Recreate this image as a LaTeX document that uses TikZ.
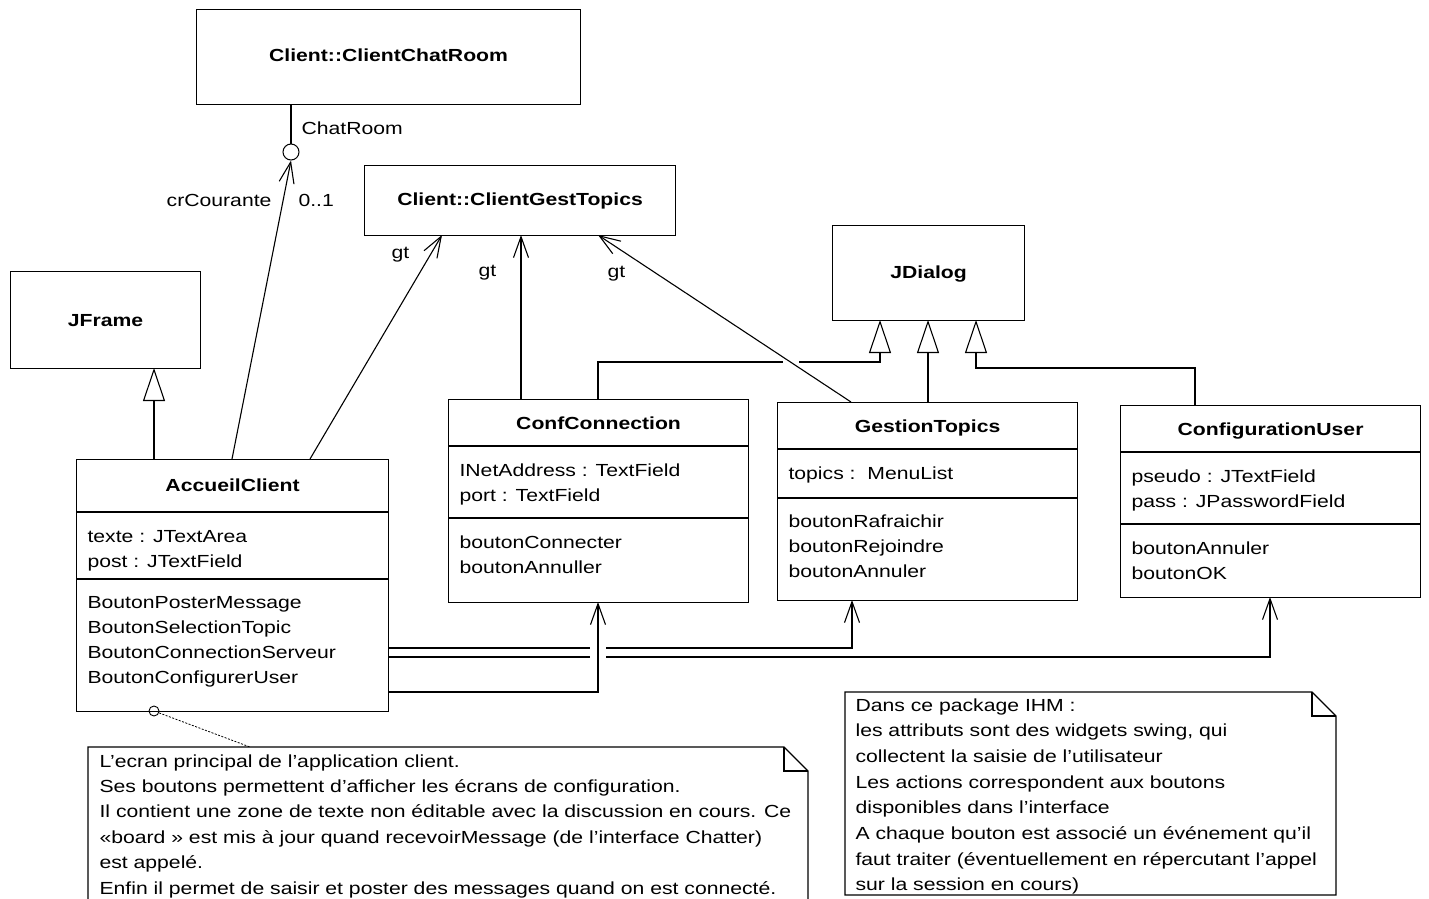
\documentclass[tikz,border=0pt]{standalone}
\usepackage{fontspec}
\setmainfont{Liberation Sans}[FakeStretch=1.21]
\usetikzlibrary{arrows.meta}
\newcommand\umllines[1]{\begin{tabular}[t]{@{}l@{}}#1\end{tabular}}
\begin{document}
\begin{tikzpicture}[x=1pt,y=-1pt,line width=1.1pt,
  every node/.style={font=\fontsize{17.5}{25}\selectfont},
  box/.style={draw,rectangle,anchor=north west,inner sep=0pt},
  txt/.style={inner sep=0pt,anchor=base west},
  ttl/.style={inner sep=0pt,anchor=base,font=\fontsize{17.5}{25}\selectfont\bfseries},
  assoc/.style={-{Straight Barb[length=21pt,width=15pt]}},
  inh/.style={-{Triangle[open,length=33pt,width=22pt]}},
  notelink/.style={line width=0.8pt,dash pattern=on 2pt off 1.5pt}]
\useasboundingbox (0,0) rectangle (1429,899);
\clip (0,0) rectangle (1429,899);

% class boxes
\node[box,minimum width=384pt,minimum height=95pt] (ccr) at (196,9) {};
\node[box,minimum width=311pt,minimum height=70pt] (cgt) at (364,165) {};
\node[box,minimum width=190pt,minimum height=97pt] (jf) at (10,271) {};
\node[box,minimum width=192pt,minimum height=95pt] (jd) at (832,225) {};
\node[box,minimum width=312pt,minimum height=252pt] (acc) at (76,459) {};
\node[box,minimum width=300pt,minimum height=203pt] (cc) at (448,399) {};
\node[box,minimum width=300pt,minimum height=198pt] (gtp) at (777,402) {};
\node[box,minimum width=300pt,minimum height=192pt] (cu) at (1120,405) {};

% titles
\node[ttl] (ccrt) at (ccr.north |- 0,62) {Client::ClientChatRoom};
\node[ttl] (cgtt) at (cgt.north |- 0,205.5) {Client::ClientGestTopics};
\node[ttl] (jft) at (jf.north |- 0,326) {JFrame};
\node[ttl] (jdt) at (jd.north |- 0,278) {JDialog};
\node[ttl] (acct) at (acc.north |- 0,491) {AccueilClient};
\node[ttl] (cct) at (cc.north |- 0,429) {ConfConnection};
\node[ttl] (gtpt) at (gtp.north |- 0,432) {GestionTopics};
\node[ttl] (cut) at (cu.north |- 0,435) {ConfigurationUser};

% compartments
\draw (acc.west |- 0,512) -- (acc.east |- 0,512);
\draw (acc.west |- 0,579) -- (acc.east |- 0,579);
\draw (cc.west |- 0,446) -- (cc.east |- 0,446);
\draw (cc.west |- 0,518) -- (cc.east |- 0,518);
\draw (gtp.west |- 0,449) -- (gtp.east |- 0,449);
\draw (gtp.west |- 0,498) -- (gtp.east |- 0,498);
\draw (cu.west |- 0,452) -- (cu.east |- 0,452);
\draw (cu.west |- 0,524) -- (cu.east |- 0,524);

% attributes and operations
\node[txt] (acca) at (87,542) {\umllines{texte : JTextArea\\post : JTextField}};
\node[txt] (acco) at (87,608) {\umllines{BoutonPosterMessage\\BoutonSelectionTopic\\BoutonConnectionServeur\\BoutonConfigurerUser}};
\node[txt] (cca) at (459,476) {\umllines{INetAddress : TextField\\port : TextField}};
\node[txt] (cco) at (459,548) {\umllines{boutonConnecter\\boutonAnnuller}};
\node[txt] (gtpa) at (788,479) {topics :\ \ MenuList};
\node[txt] (gtpo) at (788,527) {\umllines{boutonRafraichir\\boutonRejoindre\\boutonAnnuler}};
\node[txt] (cua) at (1131,482) {\umllines{pseudo : JTextField\\pass : JPasswordField}};
\node[txt] (cuo) at (1131,554) {\umllines{boutonAnnuler\\boutonOK}};

% connection points
\coordinate (accI) at (154,459);
\coordinate (accA) at (232,459);
\coordinate (accB) at (310,459);
\coordinate (cgtA) at (442,235);
\coordinate (cgtB) at (521,235);
\coordinate (cgtC) at (598,235);
\coordinate (ccB) at (521,399);
\coordinate (ccJ) at (598,399);
\coordinate (ccD) at (598,602);
\coordinate (gtpG) at (851,402);
\coordinate (gtpJ) at (928,402);
\coordinate (gtpD) at (852,600);
\coordinate (cuJ) at (1195,405);
\coordinate (cuD) at (1270,597);
\coordinate (jdA) at (880,320);
\coordinate (jdB) at (928,320);
\coordinate (jdC) at (976,320);
\coordinate (jfA) at (154,368);

% qualified association to ClientChatRoom
\node[draw,circle,minimum size=16pt,inner sep=0pt,line width=1pt] (q) at (291,152) {};
\draw (q.north |- ccr.south) -- (q.north);
\draw[assoc] (accA) -- (q.south);
\node[txt] (lcr) at (301,134) {ChatRoom};
\node[inner sep=0pt,anchor=base east] (lcc) at (272,206) {crCourante};
\node[txt] (lm) at (298,206) {0..1};

% associations to ClientGestTopics
\draw[assoc] (accB) -- (cgtA);
\draw[assoc] (ccB) -- (cgtB);
\draw[assoc] (gtpG) -- (cgtC);
\node[txt] (g1) at (391,258) {gt};
\node[txt] (g2) at (478,276) {gt};
\node[txt] (g3) at (607,277) {gt};

% generalizations
\draw[inh] (accI) -- (jfA);
\draw[inh] (ccJ) -- (598,362) -- (783,362) (799,362) -- (880,362) -- (jdA);
\draw[inh] (gtpJ) -- (jdB);
\draw[inh] (cuJ) -- (1195,368) -- (976,368) -- (jdC);

% dependencies from AccueilClient
\draw[assoc] (388,648) -- (590,648) (606,648) -- (852,648) -- (gtpD);
\draw[assoc] (388,657) -- (590,657) (606,657) -- (1270,657) -- (cuD);
\draw[assoc] (388,692) -- (598,692) -- (ccD);

% note 1
\node[draw,circle,minimum size=10pt,inner sep=0pt,line width=0.9pt] (nc) at (154,711) {};
\coordinate (n1a) at (250,747);
\draw[notelink] (nc) -- (n1a);
\draw (88,930) -- (88,747) -- (784,747) -- (808,771) -- (808,930);
\draw (784,747) -- (784,771) -- (808,771);
\node[txt,font=\fontsize{17.5}{25.4}\selectfont] (n1t) at (99,767) {\umllines{L’ecran principal de l’application client.\\Ses boutons permettent d’afficher les écrans de configuration.\\Il contient une zone de texte non éditable avec la discussion en cours. Ce\\«board » est mis à jour quand recevoirMessage (de l’interface Chatter)\\est appelé.\\Enfin il permet de saisir et poster des messages quand on est connecté.}};

% note 2
\draw (845,692) -- (1312,692) -- (1336,716) -- (1336,895) -- (845,895) -- cycle;
\draw (1312,692) -- (1312,716) -- (1336,716);
\node[txt,font=\fontsize{17.5}{25.7}\selectfont] (n2t) at (855,711) {\umllines{Dans ce package IHM :\\les attributs sont des widgets swing, qui\\collectent la saisie de l’utilisateur\\Les actions correspondent aux boutons\\disponibles dans l’interface\\A chaque bouton est associé un événement qu’il\\faut traiter (éventuellement en répercutant l’appel\\sur la session en cours)}};
\end{tikzpicture}
\end{document}
